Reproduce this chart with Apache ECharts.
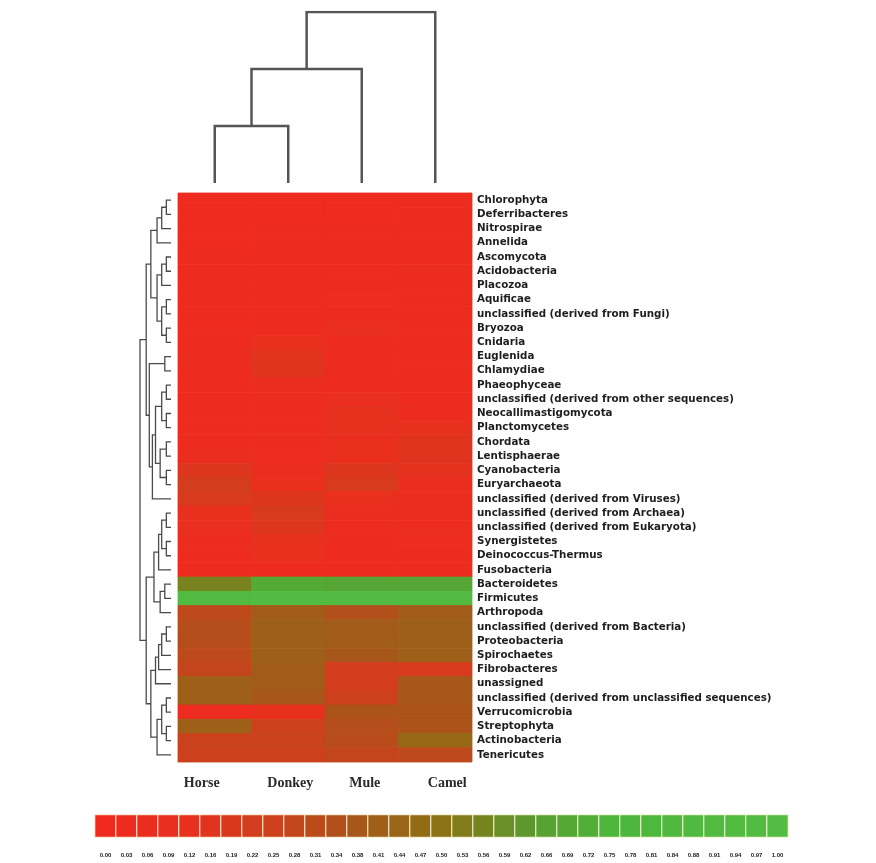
<!DOCTYPE html>
<html>
<head>
<meta charset="utf-8">
<title>Phylum abundance heatmap</title>
<script src="https://cdn.jsdelivr.net/npm/echarts@6/dist/echarts.min.js"></script>
<style>
  html, body { margin: 0; padding: 0; background: #ffffff; }
  #chart { width: 876px; height: 863px; }
</style>
</head>
<body>
<div id="chart"></div>
<script>
// Samples (columns of the heatmap)
const animals = ['Horse', 'Donkey', 'Mule', 'Camel'];

// Phyla (rows of the heatmap, top to bottom)
const phyla = [
  'Chlorophyta', 'Deferribacteres', 'Nitrospirae', 'Annelida', 'Ascomycota',
  'Acidobacteria', 'Placozoa', 'Aquificae', 'unclassified (derived from Fungi)', 'Bryozoa',
  'Cnidaria', 'Euglenida', 'Chlamydiae', 'Phaeophyceae', 'unclassified (derived from other sequences)',
  'Neocallimastigomycota', 'Planctomycetes', 'Chordata', 'Lentisphaerae', 'Cyanobacteria',
  'Euryarchaeota', 'unclassified (derived from Viruses)', 'unclassified (derived from Archaea)', 'unclassified (derived from Eukaryota)', 'Synergistetes',
  'Deinococcus-Thermus', 'Fusobacteria', 'Bacteroidetes', 'Firmicutes', 'Arthropoda',
  'unclassified (derived from Bacteria)', 'Proteobacteria', 'Spirochaetes', 'Fibrobacteres', 'unassigned',
  'unclassified (derived from unclassified sequences)', 'Verrucomicrobia', 'Streptophyta', 'Actinobacteria', 'Tenericutes'
];

// Scaled abundance per sample, one value per phylum (same order as phyla)
const horse = [
  0.02, 0.02, 0.02, 0.02, 0.03, 0.03, 0.03, 0.03, 0.03, 0.03,
  0.04, 0.06, 0.05, 0.04, 0.04, 0.04, 0.04, 0.05, 0.08, 0.18,
  0.22, 0.20, 0.12, 0.10, 0.06, 0.05, 0.03, 0.55, 0.92, 0.30,
  0.33, 0.33, 0.30, 0.28, 0.42, 0.42, 0.04, 0.42, 0.26, 0.25
];
const donkey = [
  0.02, 0.02, 0.03, 0.03, 0.03, 0.03, 0.03, 0.04, 0.04, 0.05,
  0.10, 0.15, 0.16, 0.08, 0.06, 0.06, 0.06, 0.06, 0.07, 0.08,
  0.10, 0.18, 0.20, 0.18, 0.12, 0.10, 0.03, 0.70, 0.95, 0.40,
  0.42, 0.42, 0.42, 0.40, 0.40, 0.38, 0.12, 0.25, 0.26, 0.25
];
const mule = [
  0.02, 0.02, 0.03, 0.03, 0.03, 0.03, 0.05, 0.07, 0.05, 0.09,
  0.05, 0.05, 0.05, 0.05, 0.10, 0.13, 0.12, 0.10, 0.10, 0.18,
  0.20, 0.10, 0.08, 0.06, 0.05, 0.04, 0.03, 0.68, 0.95, 0.34,
  0.40, 0.40, 0.38, 0.22, 0.22, 0.25, 0.36, 0.33, 0.32, 0.28
];
const camel = [
  0.03, 0.03, 0.06, 0.06, 0.06, 0.06, 0.06, 0.06, 0.05, 0.05,
  0.04, 0.04, 0.04, 0.05, 0.05, 0.06, 0.12, 0.16, 0.16, 0.14,
  0.08, 0.08, 0.08, 0.07, 0.07, 0.06, 0.04, 0.68, 0.92, 0.40,
  0.42, 0.42, 0.42, 0.20, 0.38, 0.38, 0.36, 0.36, 0.45, 0.30
];

// Colour key labels
const scaleLabels = [
  '0.00', '0.03', '0.06', '0.09', '0.12', '0.16', '0.19', '0.22', '0.25', '0.28', '0.31',
  '0.34', '0.38', '0.41', '0.44', '0.47', '0.50', '0.53', '0.56', '0.59', '0.62', '0.66',
  '0.69', '0.72', '0.75', '0.78', '0.81', '0.84', '0.88', '0.91', '0.94', '0.97', '1.00'
];

// Sample clustering: [childA, childB, height]; leaves 0..3, merged nodes 4, 5, ...
const sampleLinks = [
  [0, 1, 1.0],
  [4, 2, 2.0],
  [5, 3, 3.0]
];

// Phylum clustering: [childA, childB, height]; leaves 0..39, merged nodes 40, 41, ...
const phylumLinks = [
  [0, 1, 1.5],    // 40
  [40, 2, 3.0],   // 41
  [41, 3, 4.5],   // 42
  [4, 5, 1.5],    // 43
  [43, 6, 3.0],   // 44
  [7, 8, 1.5],    // 45
  [9, 10, 1.5],   // 46
  [45, 46, 3.0],  // 47
  [44, 47, 4.5],  // 48
  [42, 48, 6.5],  // 49
  [11, 12, 2.0],  // 50
  [13, 14, 1.5],  // 51
  [15, 16, 1.5],  // 52
  [51, 52, 3.0],  // 53
  [17, 18, 1.5],  // 54
  [19, 20, 1.5],  // 55
  [54, 55, 3.5],  // 56
  [53, 56, 5.0],  // 57
  [57, 21, 6.0],  // 58
  [50, 58, 7.0],  // 59
  [49, 59, 8.0],  // 60
  [22, 23, 1.5],  // 61
  [24, 25, 1.5],  // 62
  [61, 62, 3.0],  // 63
  [63, 26, 4.0],  // 64
  [27, 28, 2.0],  // 65
  [65, 29, 3.5],  // 66
  [64, 66, 5.5],  // 67
  [30, 31, 1.5],  // 68
  [68, 32, 3.0],  // 69
  [69, 33, 4.0],  // 70
  [70, 34, 5.0],  // 71
  [35, 36, 1.5],  // 72
  [37, 38, 1.5],  // 73
  [72, 73, 3.0],  // 74
  [74, 39, 4.5],  // 75
  [71, 75, 6.5],  // 76
  [67, 76, 8.0],  // 77
  [60, 77, 10.0]  // 78
];

// Turn a linkage list into elbow polylines: each point is [leafPosition, height]
function dendrogramPaths(links, leafCount) {
  const pos = [];
  const hgt = [];
  for (let i = 0; i < leafCount; i++) { pos.push(i); hgt.push(0); }
  const paths = [];
  links.forEach(function (l) {
    const a = l[0], b = l[1], h = l[2];
    paths.push([[pos[a], hgt[a]], [pos[a], h], [pos[b], h], [pos[b], hgt[b]]]);
    pos.push((pos[a] + pos[b]) / 2);
    hgt.push(h);
  });
  return paths;
}

const valueColumns = [horse, donkey, mule, camel];
const heatData = [];
valueColumns.forEach(function (col, c) {
  col.forEach(function (v, r) { heatData.push([c, r, v]); });
});

const keyData = scaleLabels.map(function (s, i) { return [i, 0, parseFloat(s)]; });

const topPaths = dendrogramPaths(sampleLinks, animals.length)
  .map(function (p) { return { coords: p }; });
const sidePaths = dendrogramPaths(phylumLinks, phyla.length)
  .map(function (p) { return { coords: p.map(function (pt) { return [pt[1], pt[0]]; }) }; });

// Heat cell: filled and stroked with its own colour so neighbours join seamlessly
function renderCell(params, api) {
  const p = api.coord([api.value(0), api.value(1)]);
  const s = api.size([1, 1]);
  const c = api.visual('color');
  return {
    type: 'rect',
    shape: { x: p[0] - s[0] / 2, y: p[1] - s[1] / 2, width: s[0], height: s[1] },
    style: { fill: c, stroke: c, lineWidth: 0.8 }
  };
}

const nameStyle = { fontFamily: 'Liberation Serif', fontWeight: 'bold', fontSize: 14, color: '#2a2a2a' };

const chart = echarts.init(document.getElementById('chart'), null, { renderer: 'canvas' });

const hiddenAxis = { show: false };

chart.setOption({
  animation: false,
  backgroundColor: '#ffffff',
  grid: [
    { left: 178, top: 193, width: 294, height: 569 },   // heatmap
    { left: 178, top: 12, width: 294, height: 171 },    // sample dendrogram
    { left: 140, top: 193, width: 31, height: 569 },    // phylum dendrogram
    { left: 95, top: 815, width: 693, height: 22 }      // colour key
  ],
  xAxis: [
    {
      type: 'category', gridIndex: 0, data: animals, position: 'bottom',
      axisLine: { show: false }, axisTick: { show: false }, splitLine: { show: false },
      axisLabel: {
        margin: 14, interval: 0,
        formatter: function (v) { return '{' + v + '|' + v + '}'; },
        rich: {
          Horse: Object.assign({ padding: [0, 26, 0, 0] }, nameStyle),
          Donkey: Object.assign({ padding: [0, 0, 0, 4] }, nameStyle),
          Mule: Object.assign({ padding: [0, 0, 0, 6] }, nameStyle),
          Camel: Object.assign({ padding: [0, 0, 0, 24] }, nameStyle)
        }
      }
    },
    Object.assign({ type: 'value', gridIndex: 1, min: -0.5, max: 3.5 }, hiddenAxis),
    Object.assign({ type: 'value', gridIndex: 2, min: 0, max: 10, inverse: true }, hiddenAxis),
    {
      type: 'category', gridIndex: 3, data: scaleLabels,
      axisLine: { show: false }, axisTick: { show: false }, splitLine: { show: false },
      axisLabel: {
        margin: 15, interval: 0, fontFamily: 'Liberation Sans', fontWeight: 'bold',
        fontSize: 6, color: '#222222'
      }
    }
  ],
  yAxis: [
    {
      type: 'category', gridIndex: 0, data: phyla, inverse: true, position: 'right',
      axisLine: { show: false }, axisTick: { show: false }, splitLine: { show: false },
      axisLabel: {
        margin: 5, interval: 0, fontFamily: 'DejaVu Sans', fontWeight: 'bold',
        fontSize: 10.3, color: '#1e1e1e'
      }
    },
    Object.assign({ type: 'value', gridIndex: 1, min: 0, max: 3 }, hiddenAxis),
    Object.assign({ type: 'value', gridIndex: 2, min: -0.5, max: 39.5, inverse: true }, hiddenAxis),
    Object.assign({ type: 'category', gridIndex: 3, data: [''] }, hiddenAxis)
  ],
  visualMap: {
    show: false,
    type: 'continuous',
    min: 0,
    max: 1,
    dimension: 2,
    seriesIndex: [0, 3],
    inRange: {
      color: ['#f0291f', '#e8301f', '#cc401c', '#a8561a', '#8b7214',
              '#5c9a2d', '#4db63c', '#4fba3f', '#52bd42']
    }
  },
  series: [
    {
      type: 'custom', xAxisIndex: 0, yAxisIndex: 0, data: heatData,
      encode: { x: 0, y: 1 }, renderItem: renderCell, silent: true
    },
    {
      type: 'lines', coordinateSystem: 'cartesian2d', xAxisIndex: 1, yAxisIndex: 1,
      polyline: true, data: topPaths, silent: true,
      lineStyle: { color: '#555555', width: 2.5, opacity: 1 }
    },
    {
      type: 'lines', coordinateSystem: 'cartesian2d', xAxisIndex: 2, yAxisIndex: 2,
      polyline: true, data: sidePaths, silent: true,
      lineStyle: { color: '#4a4a4a', width: 1.3, opacity: 1 }
    },
    {
      type: 'heatmap', xAxisIndex: 3, yAxisIndex: 3, data: keyData, silent: true,
      itemStyle: { borderColor: 'rgba(255,250,225,0.85)', borderWidth: 1.2 }
    }
  ]
});
</script>
</body>
</html>
